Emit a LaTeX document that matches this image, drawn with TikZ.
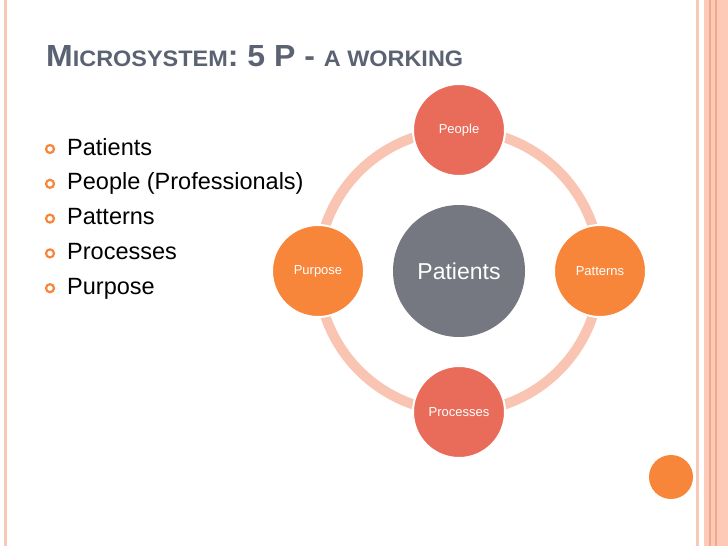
\documentclass[tikz,border=0pt]{standalone}
\usepackage{fontspec}
\setmainfont{Liberation Sans}
\usetikzlibrary{positioning}

\definecolor{titlegray}{HTML}{5B6373}
\definecolor{ringpink}{HTML}{F9C4B1}
\definecolor{coral}{HTML}{E96C5A}
\definecolor{tangerine}{HTML}{F7863A}
\definecolor{hubgray}{HTML}{757880}
\definecolor{edgepink}{HTML}{F8C9B6}
\definecolor{edgedark}{HTML}{EFA98C}
\definecolor{bandpink}{HTML}{FDCAB7}

\begin{document}
\begin{tikzpicture}[x=1pt, y=-1pt,
		hub/.style={circle, fill=hubgray, minimum size=132pt, inner sep=0pt, text=white, font=\fontsize{23}{27}\selectfont},
		ring_node/.style={circle, draw=white, line width=2pt, minimum size=92pt, inner sep=0pt, text=white, font=\fontsize{13}{15}\selectfont},
		bullet/.style={circle, draw=tangerine, line width=2.2pt, minimum size=8pt, inner sep=0pt},
		item/.style={anchor=base west, inner sep=0pt, font=\fontsize{23.5}{27}\selectfont}
		]
		\useasboundingbox (0,0) rectangle (728,546);
		\fill[white] (0,0) rectangle (728,546);
		
		% Borders
		\fill[edgepink] (4,0) rectangle (7,546);
		\fill[edgepink] (696,0) rectangle (699,546);
		\fill[bandpink] (704,0) rectangle (728,546);
		\fill[edgedark] (709,0) rectangle (710.5,546);
		\fill[edgedark] (715,0) rectangle (716.5,546);
		
		% Title
		\node[anchor=base west, inner sep=0pt, text=titlegray, font=\bfseries] (title) at (46,66)
			{\resizebox{417pt}{21pt}{\fontsize{30}{32}\selectfont M\fontsize{22}{24}\selectfont ICROSYSTEM\fontsize{30}{32}\selectfont: 5 P - \fontsize{22}{24}\selectfont A WORKING}};
		
		% Bullet list
		\foreach \txt [count=\i] in {Patients, People (Professionals), Patterns, Processes, Purpose} {
			\node[item] (item\i) at (67, {155+34.8*(\i-1)}) {\txt};
			\node[bullet] (dot\i) at (50, {149+34.8*(\i-1)}) {};
		}
		
		% Cycle
		\node[hub] (patients) at (459,271) {Patients};
		\draw[ringpink, line width=10pt] (patients.center) circle (141pt);
		\node[ring_node, fill=coral] (people) at (459,130) {People};
		\node[ring_node, fill=tangerine] (patterns) at (600,271) {Patterns};
		\node[ring_node, fill=coral] (processes) at (459,412) {Processes};
		\node[ring_node, fill=tangerine] (purpose) at (318,271) {Purpose};
		
		% Corner dot
		\node[circle, fill=tangerine, minimum size=44pt, inner sep=0pt] (corner) at (671,477) {};
		
	\end{tikzpicture}
\end{document}
